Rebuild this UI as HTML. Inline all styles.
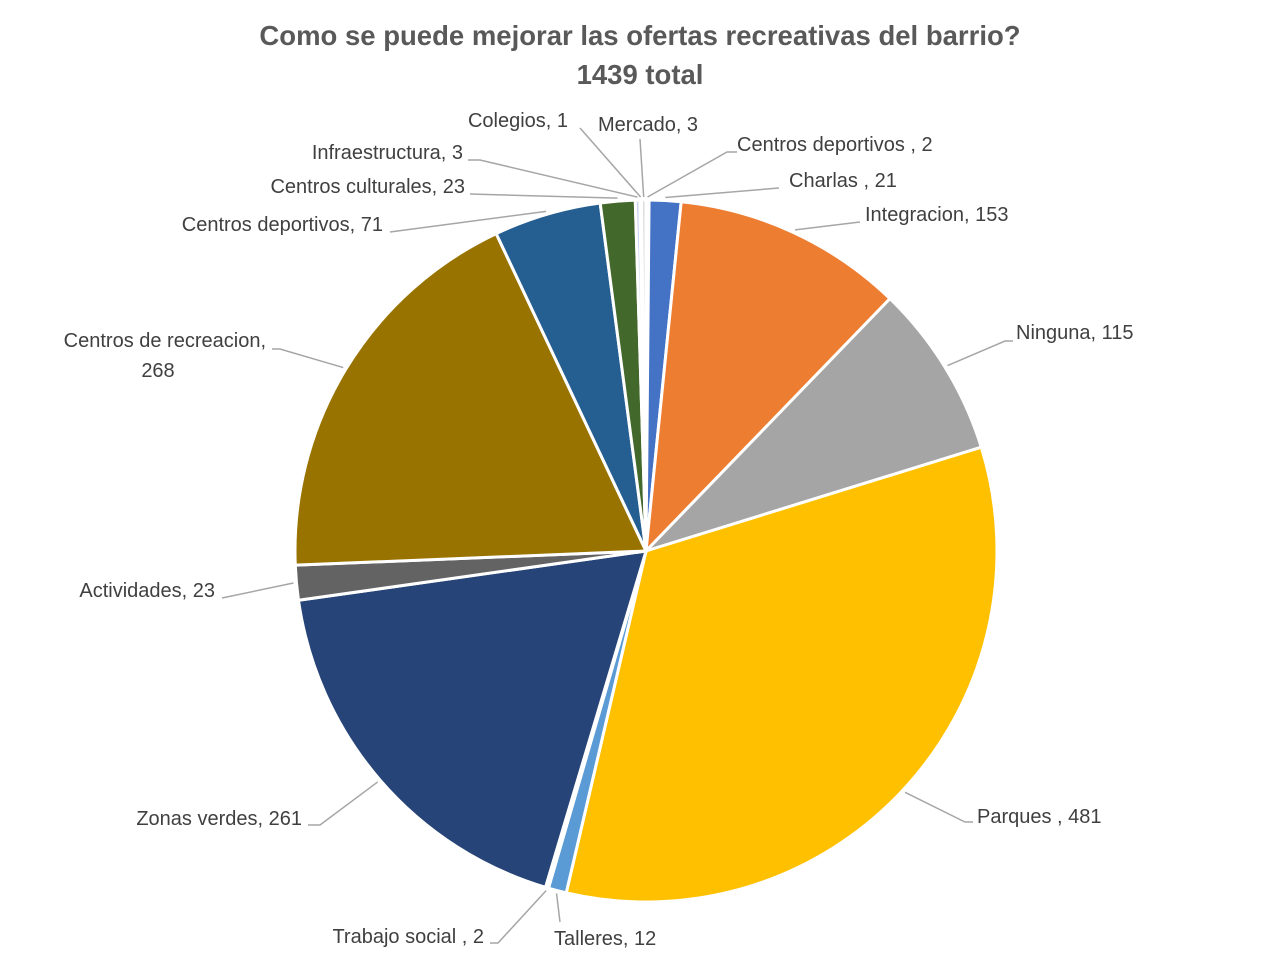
<!DOCTYPE html>
<html><head><meta charset="utf-8"><style>
body{margin:0;background:#fff;width:1282px;height:960px;overflow:hidden;font-family:"Liberation Sans",sans-serif}
</style></head><body>
<svg id="chart" width="1282" height="960" xmlns="http://www.w3.org/2000/svg">
<text x="640" y="45" text-anchor="middle" font-size="27.5" font-weight="bold" fill="#595959">Como se puede mejorar las ofertas recreativas del barrio?</text>
<text x="640" y="84" text-anchor="middle" font-size="27.5" font-weight="bold" fill="#595959">1439 total</text>
<g id="slices"></g>
<g id="labels" font-size="20" fill="#404040"></g>
</svg>
<script>
const categories=["Centros deportivos , 2","Charlas , 21","Integracion, 153","Ninguna, 115","Parques , 481","Talleres, 12","Trabajo social , 2","Zonas verdes, 261","Actividades, 23","Centros de recreacion, 268","Centros deportivos, 71","Centros culturales, 23","Infraestructura, 3","Colegios, 1","Mercado, 3"];
const values=[2,21,153,115,481,12,2,261,23,268,71,23,3,1,3];
const colors=["#9dc3e6","#4472C4","#ED7D31","#A5A5A5","#FFC000","#5B9BD5","#e3ecf6","#264478","#636363","#997300","#255E91","#43682B","#c9d6ee","#f6d2bb","#dcdcdc"];
// label layout: [textX, textY, anchor, lineEndX, lineEndY, elbowX, elbowY]
const layout=[
[737,151,"start",737,152,727,152],
[789,187,"start",779,188,779,188],
[865,221,"start",860,222,860,222],
[1016,339,"start",1013,341,1005,341],
[977,823,"start",973,822,965,822],
[554,945,"start",560,922,560,922],
[484,943,"end",490,943,498,943],
[302,825,"end",308,825,320,825],
[215,597,"end",222,598,222,598],
[266,347,"end",272,349,280,349],
[383,231,"end",390,232,390,232],
[465,193,"end",470,194,470,194],
[463,159,"end",468,160,480,160],
[568,127,"end",580,128,580,128],
[598,131,"start",640,139,640,139]
];
const cx=646,cy=551,r=351;
const total=values.reduce((a,b)=>a+b,0);
const NS="http://www.w3.org/2000/svg";
const gs=document.getElementById('slices'),gl=document.getElementById('labels');
let a0=0;
values.forEach((v,i)=>{
  const a1=a0+v/total*2*Math.PI;
  const p=(a,rr)=>[cx+rr*Math.sin(a),cy-rr*Math.cos(a)];
  const [x0,y0]=p(a0,r),[x1,y1]=p(a1,r);
  const large=(a1-a0)>Math.PI?1:0;
  const path=document.createElementNS(NS,'path');
  path.setAttribute('d',`M${cx},${cy} L${x0},${y0} A${r},${r} 0 ${large} 1 ${x1},${y1} Z`);
  path.setAttribute('fill',colors[i]);
  path.setAttribute('stroke','#fff');
  path.setAttribute('stroke-width','3');
  
  
  gs.appendChild(path);
  const am=(a0+a1)/2;
  const [ex,ey]=p(am,r+3);
  const L=layout[i];
  const pl=document.createElementNS(NS,'polyline');
  pl.setAttribute('points',`${ex},${ey} ${L[5]},${L[6]} ${L[3]},${L[4]}`);
  pl.setAttribute('fill','none');pl.setAttribute('stroke','#a6a6a6');pl.setAttribute('stroke-width','1.5');
  
  
  gl.appendChild(pl);
  const t=document.createElementNS(NS,'text');
  t.setAttribute('text-anchor',L[2]);
  
  
  t.setAttribute('x',L[0]);t.setAttribute('y',L[1]);
  if(categories[i].startsWith("Centros de recreacion")){
    t.textContent="Centros de recreacion,";
    const t2=document.createElementNS(NS,'text');
    t2.setAttribute('x',158);t2.setAttribute('y',L[1]+30);t2.setAttribute('text-anchor','middle');
    t2.textContent=String(values[i]);
    
    
    gl.appendChild(t2);
  } else {
    t.textContent=categories[i];
  }
  gl.appendChild(t);
  a0=a1;
});
</script>
</body></html>
